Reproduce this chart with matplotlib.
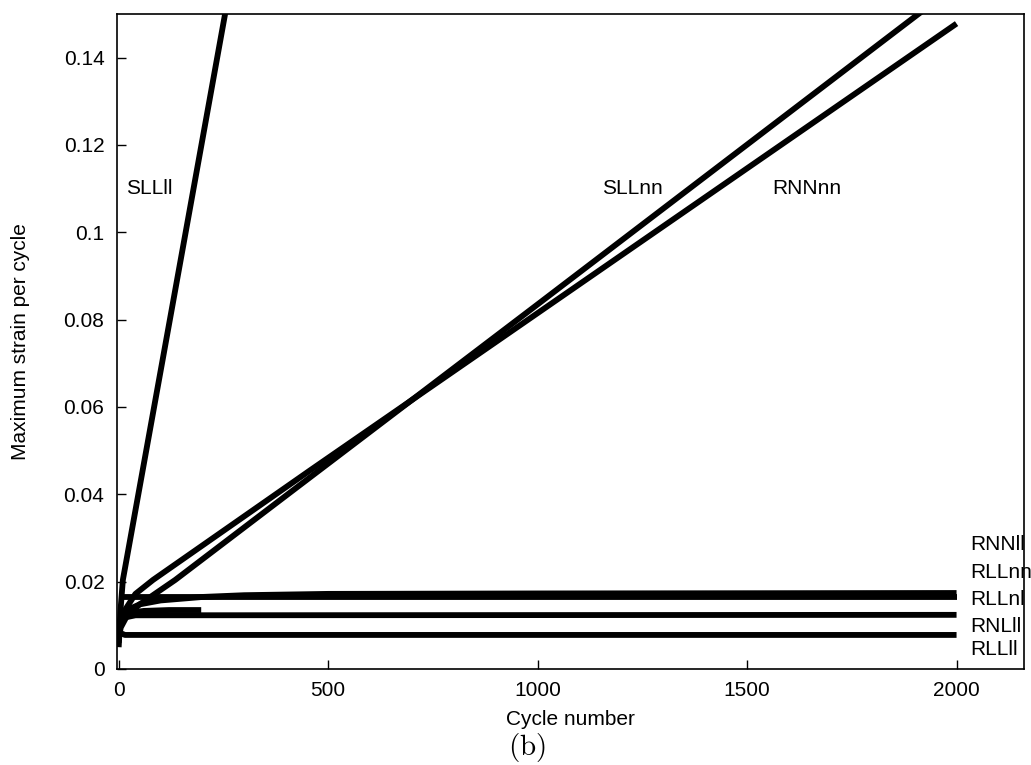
import matplotlib
matplotlib.use("Agg")
import matplotlib.pyplot as plt

plt.rcParams['font.family'] = ['Liberation Sans', 'DejaVu Sans']
plt.rcParams['mathtext.fontset'] = 'cm'

# ---- data ----
sllll_x = [0, 4, 10, 20, 100, 260]
sllll_y = [0.006, 0.013, 0.0204, 0.0257, 0.0682, 0.1532]

sllnn_x = [0, 5, 20, 50, 135, 457, 1000, 1909, 1960]
sllnn_y = [0.007, 0.0095, 0.0122, 0.0148, 0.0204, 0.0439, 0.0835, 0.150, 0.1537]

rnnnn_x = [0, 5, 15, 40, 82, 457, 1000, 2000]
rnnnn_y = [0.008, 0.011, 0.0135, 0.0172, 0.0204, 0.0455, 0.0815, 0.1478]

rnnll_x = [0, 5, 20, 50, 100, 200, 300, 500, 1000, 2000]
rnnll_y = [0.009, 0.0115, 0.0135, 0.0148, 0.0157, 0.0165, 0.0169, 0.0172, 0.0173, 0.0174]

rllnl_x = [0, 2000]
rllnl_y = [0.0164, 0.0164]

rllnn_x = [0, 5, 20, 60, 120, 197]
rllnn_y = [0.0075, 0.011, 0.0128, 0.0133, 0.0135, 0.0135]

rnlll_x = [0, 2, 5, 15, 40, 2000]
rnlll_y = [0.005, 0.0085, 0.0105, 0.0118, 0.0123, 0.0124]

rllll_x = [0, 5, 15, 2000]
rllll_y = [0.0092, 0.0082, 0.0078, 0.0078]

x_ticks = [0, 500, 1000, 1500, 2000]
y_ticks = [0, 0.02, 0.04, 0.06, 0.08, 0.1, 0.12, 0.14]
y_ticklabels = ["0", "0.02", "0.04", "0.06", "0.08", "0.1", "0.12", "0.14"]

labels = ["SLLll", "SLLnn", "RNNnn", "RNNll", "RLLnn", "RLLnl", "RNLll", "RLLll"]
label_x = [18, 1154, 1560, 2032, 2032, 2032, 2032, 2032]
label_y = [0.110, 0.110, 0.110, 0.0284, 0.0222, 0.0160, 0.0098, 0.0044]

# ---- figure ----
fig = plt.figure(figsize=(10.31, 7.65), dpi=100)
ax = fig.add_axes([117/1031, 96/765, 907/1031, 655/765])

lw = 4.2
for xs, ys in [(sllll_x, sllll_y), (sllnn_x, sllnn_y), (rnnnn_x, rnnnn_y),
               (rnnll_x, rnnll_y), (rllnl_x, rllnl_y), (rllnn_x, rllnn_y),
               (rnlll_x, rnlll_y), (rllll_x, rllll_y)]:
    ax.plot(xs, ys, color='black', lw=lw, solid_capstyle='butt', solid_joinstyle='round')

for t, lx, ly in zip(labels, label_x, label_y):
    ax.text(lx, ly, t, fontsize=15, ha='left', va='center', clip_on=False)

ax.set_xlim(-4, 2161)
ax.set_ylim(0, 0.15)
ax.set_xticks(x_ticks)
ax.set_xticklabels([str(v) for v in x_ticks])
ax.set_yticks(y_ticks)
ax.set_yticklabels(y_ticklabels)
ax.tick_params(direction='in', length=6.5, width=1.0, labelsize=15, pad=9,
               top=False, right=False)
for s in ax.spines.values():
    s.set_linewidth(1.2)

ax.set_xlabel("Cycle number", fontsize=15, labelpad=7)
ax.set_ylabel("Maximum strain per cycle", fontsize=15, labelpad=24)

fig.text(527/1031, 1 - 748/765, r'$\mathrm{(b)}$', fontsize=21, ha='center', va='center')

fig.savefig("out.png", dpi=100)
